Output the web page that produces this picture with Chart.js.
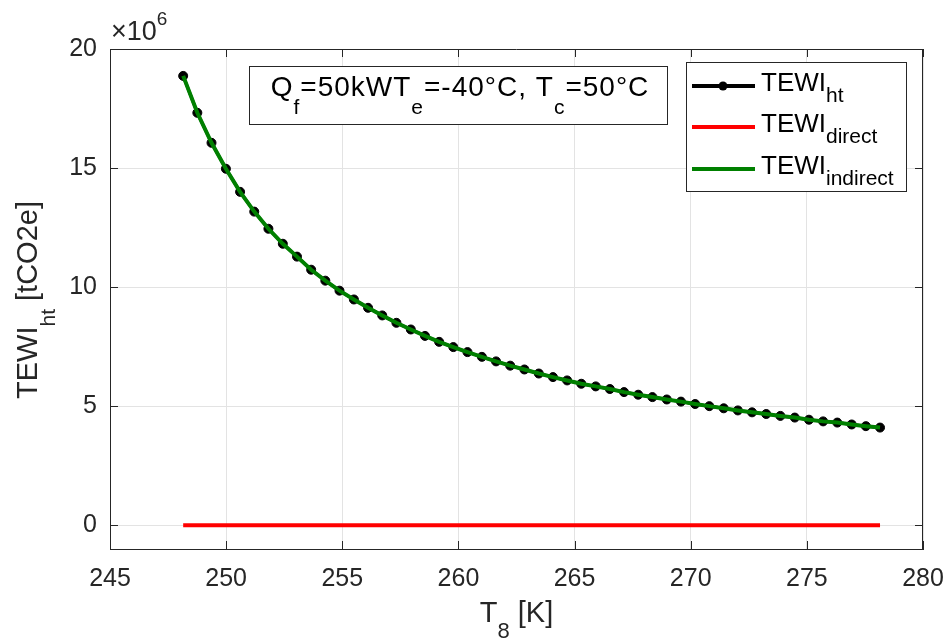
<!DOCTYPE html>
<html>
<head>
<meta charset="utf-8">
<script src="https://cdn.jsdelivr.net/npm/chart.js@4.4.1/dist/chart.umd.min.js"></script>
<style>
  html, body { margin: 0; padding: 0; background: #fff; }
  canvas { display: block; }
</style>
</head>
<body>
<canvas id="grafico" width="947" height="640"></canvas>
<script>
// Temperatura T8 [K] (50 puntos)
const temperaturaK = [
  248.15, 248.76, 249.37, 249.99, 250.60, 251.21, 251.82, 252.44, 253.05, 253.66,
  254.27, 254.88, 255.50, 256.11, 256.72, 257.33, 257.95, 258.56, 259.17, 259.78,
  260.39, 261.01, 261.62, 262.23, 262.84, 263.46, 264.07, 264.68, 265.29, 265.91,
  266.52, 267.13, 267.74, 268.35, 268.97, 269.58, 270.19, 270.80, 271.42, 272.03,
  272.64, 273.25, 273.86, 274.48, 275.09, 275.70, 276.31, 276.93, 277.54, 278.15
];

// TEWI en millones de tCO2e (eje x10^6)
const tewiHt = [
  18.87, 17.32, 16.06, 14.97, 14.00, 13.17, 12.45, 11.82, 11.28, 10.73,
  10.27, 9.85, 9.48, 9.13, 8.81, 8.50, 8.22, 7.95, 7.70, 7.48,
  7.27, 7.07, 6.88, 6.70, 6.54, 6.37, 6.22, 6.08, 5.94, 5.83,
  5.72, 5.59, 5.48, 5.38, 5.28, 5.19, 5.09, 5.00, 4.91, 4.82,
  4.74, 4.67, 4.59, 4.52, 4.43, 4.36, 4.31, 4.23, 4.16, 4.10
];
const tewiDirect = [
  0, 0, 0, 0, 0, 0, 0, 0, 0, 0,
  0, 0, 0, 0, 0, 0, 0, 0, 0, 0,
  0, 0, 0, 0, 0, 0, 0, 0, 0, 0,
  0, 0, 0, 0, 0, 0, 0, 0, 0, 0,
  0, 0, 0, 0, 0, 0, 0, 0, 0, 0
];
const tewiIndirect = [
  18.87, 17.32, 16.06, 14.97, 14.00, 13.17, 12.45, 11.82, 11.28, 10.73,
  10.27, 9.85, 9.48, 9.13, 8.81, 8.50, 8.22, 7.95, 7.70, 7.48,
  7.27, 7.07, 6.88, 6.70, 6.54, 6.37, 6.22, 6.08, 5.94, 5.83,
  5.72, 5.59, 5.48, 5.38, 5.28, 5.19, 5.09, 5.00, 4.91, 4.82,
  4.74, 4.67, 4.59, 4.52, 4.43, 4.36, 4.31, 4.23, 4.16, 4.10
];

const ticksX = [245, 250, 255, 260, 265, 270, 275, 280];
const ticksY = [0, 5, 10, 15, 20];

const FUENTE = '"Liberation Sans", Arial, Helvetica, sans-serif';
const COLOR_EJE = '#262626';

// Texto con subindices / superindices: partes = [[texto, desplazamiento, tamaño], ...]
function anchoTexto(ctx, partes, esp = 0) {
  let w = 0;
  partes.forEach(p => {
    ctx.font = `${p[2]}px ${FUENTE}`;
    w += ctx.measureText(p[0]).width + esp * p[0].length;
  });
  return w;
}
function dibujarTexto(ctx, x, y, partes, esp = 0) {
  ctx.textBaseline = 'alphabetic';
  ctx.textAlign = 'left';
  ctx.letterSpacing = esp + 'px';
  partes.forEach(p => {
    ctx.font = `${p[2]}px ${FUENTE}`;
    ctx.fillText(p[0], x, y + p[1]);
    x += ctx.measureText(p[0]).width;
  });
  ctx.letterSpacing = '0px';
}

const decoraciones = {
  id: 'decoraciones',
  afterDraw(chart) {
    const ctx = chart.ctx;
    const area = chart.chartArea;
    const sx = chart.scales.x;
    const sy = chart.scales.y;
    ctx.save();

    // Marco superior y derecho
    ctx.strokeStyle = COLOR_EJE;
    ctx.lineWidth = 1;
    ctx.beginPath();
    ctx.moveTo(area.left, area.top + 0.5);
    ctx.lineTo(area.right, area.top + 0.5);
    ctx.moveTo(area.right - 0.5, area.top);
    ctx.lineTo(area.right - 0.5, area.bottom);
    ctx.stroke();

    // Marcas hacia adentro (estilo MATLAB)
    const largo = 8;
    ctx.beginPath();
    ticksX.forEach(v => {
      const px = Math.round(sx.getPixelForValue(v)) + 0.5;
      ctx.moveTo(px, area.bottom);
      ctx.lineTo(px, area.bottom - largo);
      ctx.moveTo(px, area.top);
      ctx.lineTo(px, area.top + largo);
    });
    ticksY.forEach(v => {
      const py = Math.round(sy.getPixelForValue(v)) + 0.5;
      ctx.moveTo(area.left, py);
      ctx.lineTo(area.left + largo, py);
      ctx.moveTo(area.right, py);
      ctx.lineTo(area.right - largo, py);
    });
    ctx.stroke();

    ctx.fillStyle = COLOR_EJE;

    // x10^6
    dibujarTexto(ctx, 111, 40, [['\u00d7', 0, 27], ['10', 0, 27], ['6', -15, 19]]);

    // Titulo eje X
    const tx = [['T', 0, 29], ['8', 16, 22], [' [K]', 0, 29]];
    const wx = anchoTexto(ctx, tx);
    dibujarTexto(ctx, (area.left + area.right) / 2 - wx / 2, 622, tx);

    // Titulo eje Y (rotado)
    const ty = [['TEWI', 0, 29], ['ht', 18, 21], [' [tCO2e]', 0, 29]];
    const wy = anchoTexto(ctx, ty);
    ctx.save();
    ctx.translate(37, 300);
    ctx.rotate(-Math.PI / 2);
    dibujarTexto(ctx, -wy / 2, 0, ty);
    ctx.restore();

    // Caja de anotacion
    ctx.fillStyle = '#ffffff';
    ctx.fillRect(249.5, 66.5, 418, 58);
    ctx.strokeStyle = COLOR_EJE;
    ctx.strokeRect(249.5, 66.5, 418, 58);
    ctx.fillStyle = '#000000';
    const anot = [
      ['Q', 0, 28], ['f', 18, 21], ['=50kWT', 0, 28], ['e', 18, 21],
      ['=-40\u00b0C, T', 0, 28], ['c', 18, 21], ['=50\u00b0C', 0, 28]
    ];
    const wa = anchoTexto(ctx, anot, 1);
    dibujarTexto(ctx, 460 - wa / 2, 96, anot, 1);

    // Leyenda
    ctx.fillStyle = '#ffffff';
    ctx.fillRect(686.5, 62.5, 220, 129);
    ctx.strokeStyle = COLOR_EJE;
    ctx.strokeRect(686.5, 62.5, 220, 129);
    const filas = [
      { y: 86, color: '#000000', sub: 'ht', marcador: true },
      { y: 127, color: '#ff0000', sub: 'direct', marcador: false },
      { y: 169, color: '#008000', sub: 'indirect', marcador: false }
    ];
    filas.forEach(f => {
      ctx.strokeStyle = f.color;
      ctx.lineWidth = 4;
      ctx.beginPath();
      ctx.moveTo(692, f.y);
      ctx.lineTo(755, f.y);
      ctx.stroke();
      if (f.marcador) {
        ctx.fillStyle = '#000000';
        ctx.beginPath();
        ctx.arc(723, f.y, 4.5, 0, Math.PI * 2);
        ctx.fill();
      }
      ctx.fillStyle = '#000000';
      dibujarTexto(ctx, 761, f.y + 5, [['TEWI', 0, 26], [f.sub, 11, 21]]);
    });

    ctx.restore();
  }
};

const puntos = arr => arr.map((v, i) => ({ x: temperaturaK[i], y: v }));

new Chart(document.getElementById('grafico').getContext('2d'), {
  type: 'line',
  data: {
    datasets: [
      {
        label: 'TEWI_ht',
        data: puntos(tewiHt),
        borderColor: '#000000',
        borderWidth: 3,
        pointRadius: 4.5,
        pointBackgroundColor: '#000000',
        pointBorderColor: '#000000',
        pointBorderWidth: 1,
        tension: 0,
        order: 3
      },
      {
        label: 'TEWI_direct',
        data: puntos(tewiDirect),
        borderColor: '#ff0000',
        borderWidth: 4,
        pointRadius: 0,
        tension: 0,
        order: 2
      },
      {
        label: 'TEWI_indirect',
        data: puntos(tewiIndirect),
        borderColor: '#008000',
        borderWidth: 4,
        pointRadius: 0,
        tension: 0,
        order: 1
      }
    ]
  },
  options: {
    responsive: false,
    animation: false,
    devicePixelRatio: 1,
    layout: { padding: { top: 49, right: 24, left: 0, bottom: 0 } },
    plugins: {
      legend: { display: false },
      tooltip: { enabled: false }
    },
    scales: {
      x: {
        type: 'linear',
        min: 245,
        max: 280,
        afterBuildTicks: s => { s.ticks = ticksX.map(v => ({ value: v })); },
        afterFit: s => { s.height = 91; s.paddingLeft = 0; s.paddingRight = 0; },
        grid: { color: '#e3e3e3', drawTicks: false },
        border: { display: true, color: COLOR_EJE, width: 1 },
        ticks: {
          color: COLOR_EJE,
          font: { family: FUENTE, size: 25 },
          padding: 15,
          maxRotation: 0
        }
      },
      y: {
        type: 'linear',
        min: -1,
        max: 20,
        afterBuildTicks: s => { s.ticks = ticksY.map(v => ({ value: v })); },
        afterFit: s => { s.width = 110; s.paddingTop = 0; s.paddingBottom = 0; },
        grid: { color: '#e3e3e3', drawTicks: false },
        border: { display: true, color: COLOR_EJE, width: 1 },
        ticks: {
          color: COLOR_EJE,
          font: { family: FUENTE, size: 25 },
          padding: 13
        }
      }
    }
  },
  plugins: [decoraciones]
});
</script>
</body>
</html>
